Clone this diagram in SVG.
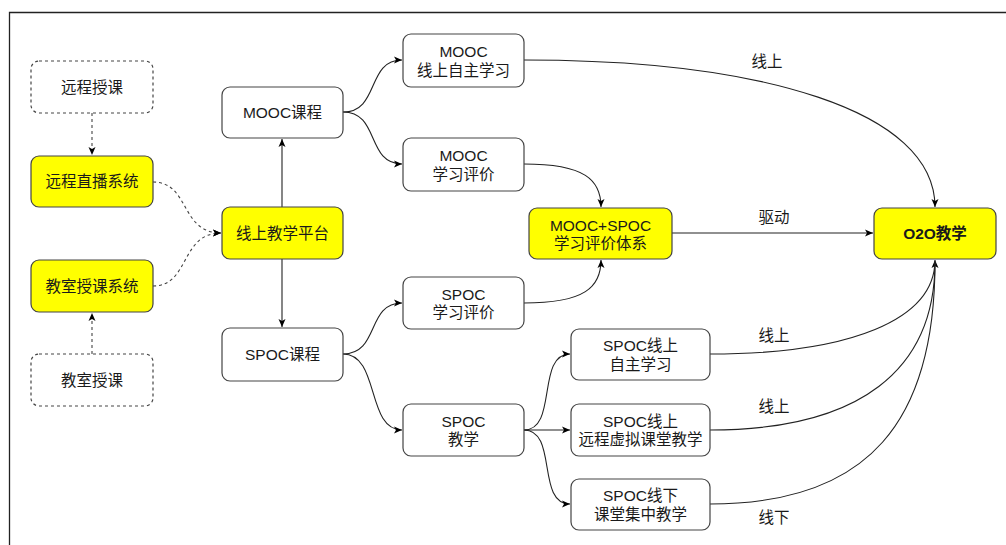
<svg xmlns="http://www.w3.org/2000/svg" width="1006" height="545" viewBox="0 0 1006 545">
<defs>
<marker id="arr" markerWidth="10" markerHeight="8" refX="8" refY="4" orient="auto" markerUnits="userSpaceOnUse">
<path d="M0,0.5 L8,4 L0,7.5 L2,4 z" fill="#000"/>
</marker>
<style>
text{font-family:"Liberation Sans","Noto Sans CJK SC",sans-serif;font-size:15.5px;fill:#1a1a1a;text-anchor:middle;}
.n rect{fill:#fff;stroke:#444;stroke-width:1.2;}
.y rect{fill:#ffff00;stroke:#444;stroke-width:1.2;}
.d rect{fill:#fff;stroke:#444;stroke-width:1.2;stroke-dasharray:3 3;}
.c path{fill:none;stroke:#222;stroke-width:1.1;marker-end:url(#arr);}
.c path.ds{stroke-dasharray:3 3;stroke:#444;}
.c path.na{marker-end:none;}
.lbl{font-size:15.5px;}
</style>
</defs>
<rect width="1006" height="545" fill="#fff"/>
<path d="M9.5,545 L9.5,12.5 L1006,12.5" fill="none" stroke="#222" stroke-width="1.3"/>

<g class="c" id="connectors">
<path class="ds" d="M92,113 L92,155"/>
<path class="ds" d="M92,354 L92,313"/>
<path class="ds" d="M153,182 C190,182 180,233 221,233"/>
<path class="ds" d="M153,286 C190,286 180,233 221,233"/>
<path d="M282,207 L282,139"/>
<path d="M282,259 L282,327"/>
<path d="M343,112 C380,112 366,60 402,60"/>
<path d="M343,112 C380,112 366,164 402,164"/>
<path d="M343,354 C380,354 366,303 402,303"/>
<path d="M343,354 C380,354 366,430 402,430"/>
<path d="M524,164 C585,164 601,180 601,207"/>
<path d="M524,303 C585,303 601,287 601,260"/>
<path d="M672,233 L873,233"/>
<path d="M524,60 C760,60 935,110 935,207"/>
<path d="M524,430 C558,430 536,354 570,354"/>
<path d="M524,430 L570,430"/>
<path d="M524,430 C558,430 536,504 570,504"/>
<path d="M710,354 C850,354 935,320 935,260"/>
<path class="na" d="M710,430 C860,430 935,370 935,262"/>
<path class="na" d="M710,504 C870,504 935,420 935,262"/>
<text class="lbl" x="767" y="67">线上</text>
<text class="lbl" x="774" y="223">驱动</text>
<text class="lbl" x="774" y="341">线上</text>
<text class="lbl" x="774" y="412">线上</text>
<text class="lbl" x="774" y="523">线下</text>
</g>

<g id="n1" class="d"><rect x="31" y="61" width="122" height="52" rx="8"/><text x="92" y="92.5">远程授课</text></g>
<g id="n2" class="y"><rect x="31" y="156" width="122" height="51" rx="8"/><text x="92" y="187">远程直播系统</text></g>
<g id="n3" class="y"><rect x="31" y="260" width="122" height="52" rx="8"/><text x="92" y="291.5">教室授课系统</text></g>
<g id="n4" class="d"><rect x="31" y="354" width="122" height="52" rx="8"/><text x="92" y="385.5">教室授课</text></g>
<g id="n5" class="n"><rect x="222" y="87" width="121" height="51" rx="8"/><text x="282.5" y="118">MOOC课程</text></g>
<g id="n6" class="y"><rect x="222" y="207" width="121" height="52" rx="8"/><text x="282.5" y="238.5">线上教学平台</text></g>
<g id="n7" class="n"><rect x="222" y="328" width="121" height="53" rx="8"/><text x="282.5" y="360">SPOC课程</text></g>
<g id="n8" class="n"><rect x="403" y="34" width="121" height="53" rx="8"/><text x="463.5" y="57">MOOC</text><text x="463.5" y="75.5">线上自主学习</text></g>
<g id="n9" class="n"><rect x="403" y="138" width="121" height="53" rx="8"/><text x="463.5" y="161">MOOC</text><text x="463.5" y="179.5">学习评价</text></g>
<g id="n10" class="y"><rect x="529" y="208" width="143" height="51" rx="8"/><text x="600.5" y="230.5">MOOC+SPOC</text><text x="600.5" y="249">学习评价体系</text></g>
<g id="n11" class="n"><rect x="403" y="277" width="121" height="52" rx="8"/><text x="463.5" y="299.5">SPOC</text><text x="463.5" y="318">学习评价</text></g>
<g id="n12" class="n"><rect x="403" y="404" width="121" height="52" rx="8"/><text x="463.5" y="426.5">SPOC</text><text x="463.5" y="445">教学</text></g>
<g id="n13" class="n"><rect x="571" y="329" width="139" height="51" rx="8"/><text x="640.5" y="351">SPOC线上</text><text x="640.5" y="369.5">自主学习</text></g>
<g id="n14" class="n"><rect x="571" y="404" width="139" height="52" rx="8"/><text x="640.5" y="426.5">SPOC线上</text><text x="640.5" y="445">远程虚拟课堂教学</text></g>
<g id="n15" class="n"><rect x="571" y="479" width="139" height="51" rx="8"/><text x="640.5" y="501">SPOC线下</text><text x="640.5" y="519.5">课堂集中教学</text></g>
<g id="n16" class="y"><rect x="874" y="208" width="122" height="51" rx="8"/><text x="935" y="239" font-weight="bold">O2O教学</text></g>
</svg>
